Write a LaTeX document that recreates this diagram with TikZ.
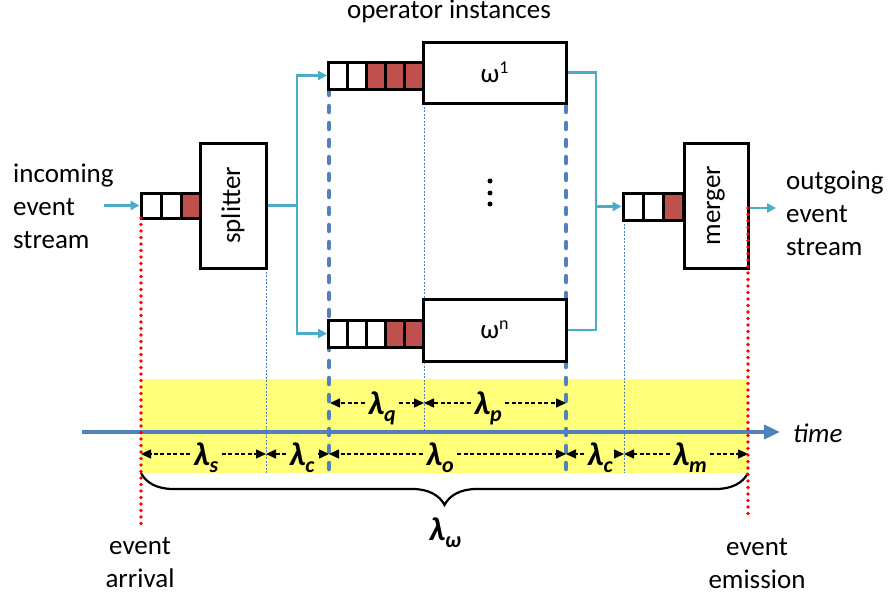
\documentclass[tikz,border=0pt]{standalone}
\usepackage{fontspec}
\setmainfont{Carlito}
\usetikzlibrary{arrows.meta,decorations.pathreplacing,calc}
\definecolor{flowblue}{RGB}{75,172,198}
\definecolor{axisblue}{RGB}{79,129,189}
\definecolor{cellred}{RGB}{192,80,77}
\definecolor{bandyellow}{RGB}{255,255,122}
\definecolor{dotred}{RGB}{255,0,0}
% latency label: bold italic lambda with a lowered subscript
\newcommand\latlab[1]{{\fontsize{33}{33}\selectfont\bfseries\itshape λ}\raisebox{-7pt}{\fontsize{22}{22}\selectfont\bfseries\itshape #1}}
\begin{document}
\begin{tikzpicture}[x=1pt,y=-1pt,
  txt/.style={font=\fontsize{27}{33}\selectfont, inner sep=0pt},
  box/.style={draw, line width=3pt, fill=white, inner sep=0pt},
  cell/.style={draw, line width=3pt, inner sep=0pt},
  flow/.style={draw=flowblue, line width=2.4pt},
  flowarr/.style={flow, -{Triangle[length=9pt,width=9pt]}},
  thinmark/.style={draw=axisblue, line width=0.8pt, dash pattern=on 2pt off 1.5pt},
  thickmark/.style={draw=axisblue, line width=4.5pt, dash pattern=on 6pt off 11pt, line cap=round},
  reddots/.style={draw=dotred, line width=3.6pt, dash pattern=on 0pt off 6.5pt, line cap=round},
  lamarr/.style={draw, line width=1.5pt, dash pattern=on 4pt off 2.5pt, -{Triangle[length=10pt,width=9pt]}},
  lam/.style={inner sep=3pt, anchor=base}
]
\useasboundingbox (0,0) rectangle (892,597);

% time band
\fill[bandyellow] (141,379) rectangle (748,473);

% thin boundary markers
\draw[thinmark] (266,268) -- (266,473);
\draw[thinmark] (424,89) -- (424,432);
\draw[thinmark] (624,220) -- (624,473);

% time axis
\draw[axisblue, line width=3.5pt, -{Triangle[length=16pt,width=14pt]}] (82,432) -- (780,432);
\node[txt, font=\fontsize{27}{33}\selectfont\itshape, anchor=base west] (time) at (793,442) {time};

% operator stage boundaries
\draw[thickmark] (329,72) -- (329,478);
\draw[thickmark] (566,72) -- (566,478);

% splitter queue and box
\foreach \i/\c in {1/white,2/white,3/cellred}
  \node[cell, fill=\c, minimum width=20pt, minimum height=25pt] (sq\i) at ({131+20*\i},205.5) {};
\node[box, minimum width=66pt, minimum height=125pt] (split) at (233,205.5) {};
\node[txt, rotate=90] at (split.center) {splitter};

% operator instance 1
\foreach \i/\c in {1/white,2/white,3/cellred,4/cellred,5/cellred}
  \node[cell, fill=\c, minimum width=19pt, minimum height=27pt] (tq\i) at ({319+19*\i},75.5) {};
\node[box, minimum width=143pt, minimum height=61pt] (op1) at (494.5,72.5) {};
\node[font=\fontsize{27}{27}\selectfont] at (op1.center) {ω\raisebox{9pt}{\fontsize{18}{18}\selectfont 1}};

% operator instance n
\foreach \i/\c in {1/white,2/white,3/white,4/cellred,5/cellred}
  \node[cell, fill=\c, minimum width=19pt, minimum height=27pt] (bq\i) at ({319+19*\i},333.5) {};
\node[box, minimum width=143pt, minimum height=62pt] (opn) at (494.5,330) {};
\node[font=\fontsize{27}{27}\selectfont] at (opn.center) {ω\raisebox{9pt}{\fontsize{18}{18}\selectfont n}};

% vertical ellipsis between instances
\foreach \y [count=\k] in {181,193,204}
  \fill (490,\y) circle (2.5pt) coordinate (dot\k);

% merger queue and box
\foreach \i/\c in {1/white,2/white,3/cellred}
  \node[cell, fill=\c, minimum width=20.3pt, minimum height=27pt] (mq\i) at ({612.85+20.3*\i},206.5) {};
\node[box, minimum width=64pt, minimum height=125pt] (merge) at (716,205.5) {};
\node[txt, rotate=90] at (merge.center) {merger};

% event flow
\coordinate (inS) at (104,205.5);
\draw[flowarr] (inS) -- (sq1.west);
\coordinate (fork) at (297,205.5);
\draw[flow] (split.east) -- (fork);
\draw[flowarr] (fork) |- (tq1.west);
\draw[flowarr] (fork) |- (bq1.west);
\coordinate (join) at (596,206.5);
\draw[flow] (op1.east) -| (join);
\draw[flow] (opn.east) -| (join);
\draw[flowarr] (join) -- (mq1.west);
\coordinate (outS) at (776,208);
\draw[flowarr] (merge.east |- outS) -- (outS);

% stream labels
\node[txt, align=left, anchor=west] (incoming) at (13,206) {incoming\\event\\stream};
\node[txt, align=left, anchor=west] (outgoing) at (786,213) {outgoing\\event\\stream};
\node[txt, anchor=base] (opinst) at (449,19) {operator instances};

% latency arrows above the axis
\coordinate (q0) at (330,403); \coordinate (q1) at (424,403); \coordinate (q2) at (566,403);
\node[lam] (lq) at (382,414) {\latlab{q}};
\node[lam] (lp) at (488,414) {\latlab{p}};
\draw[lamarr] (lq.west |- q0) -- (q0);
\draw[lamarr] (lq.east |- q1) -- (q1);
\draw[lamarr] (lp.west |- q1) -- (q1);
\draw[lamarr] (lp.east |- q2) -- (q2);

% latency arrows below the axis
\coordinate (s0) at (141,454); \coordinate (s1) at (266,454); \coordinate (s2) at (329,454);
\coordinate (s3) at (566,454); \coordinate (s4) at (624,454); \coordinate (s5) at (748,454);
\node[lam] (ls) at (206,465) {\latlab{s}};
\node[lam] (lc1) at (302,465) {\latlab{c}};
\node[lam] (lo) at (440,465) {\latlab{o}};
\node[lam] (lc2) at (600,465) {\latlab{c}};
\node[lam] (lm) at (690,465) {\latlab{m}};
\draw[lamarr] (ls.west |- s0) -- (s0);
\draw[lamarr] (ls.east |- s1) -- (s1);
\draw[lamarr] (lc1.west |- s1) -- (s1);
\draw[lamarr] (lc1.east |- s2) -- (s2);
\draw[lamarr] (lo.west |- s2) -- (s2);
\draw[lamarr] (lo.east |- s3) -- (s3);
\draw[lamarr] (lc2.west |- s3) -- (s3);
\draw[lamarr] (lc2.east |- s4) -- (s4);
\draw[lamarr] (lm.west |- s4) -- (s4);
\draw[lamarr] (lm.east |- s5) -- (s5);

% total latency brace
\draw[line width=2.2pt, decorate, decoration={brace, amplitude=32pt}] (748,473) -- (141,473);
\node[lam] (lw) at (445,540) {\latlab{ω}};

% arrival and emission instants
\draw[reddots] (141,218) -- (141,525);
\draw[reddots] (748,208) -- (748,520);
\node[txt, align=center] (arrival) at (140,563) {event\\arrival};
\node[txt, align=center] (emission) at (757,564) {event\\emission};
\end{tikzpicture}
\end{document}
